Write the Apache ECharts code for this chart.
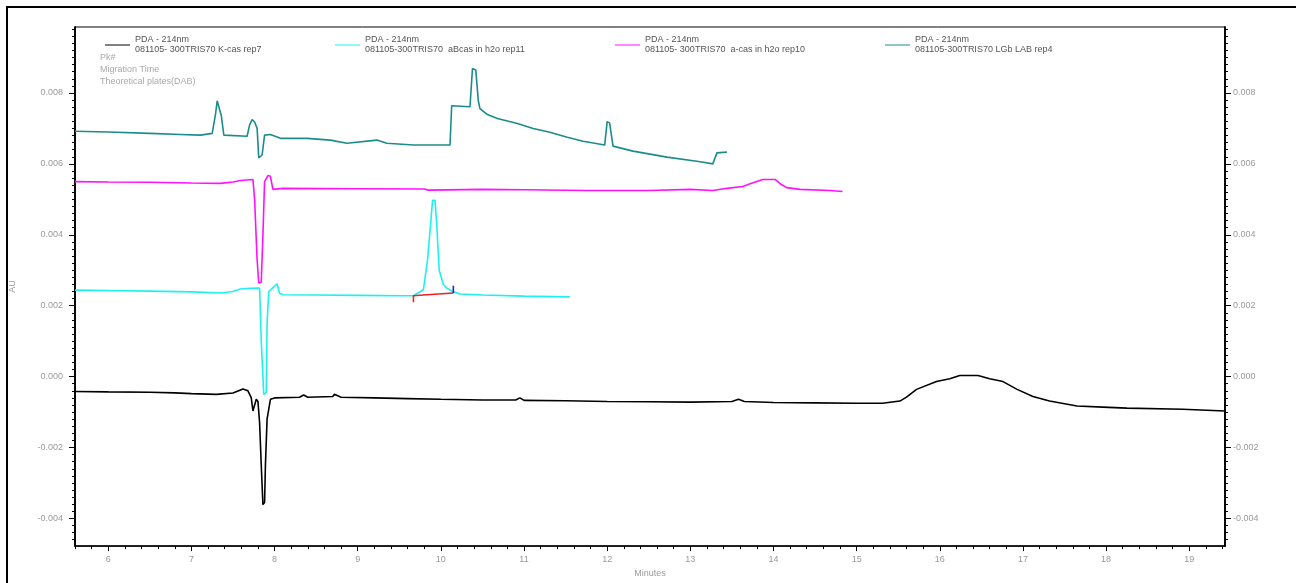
<html>
<head>
<meta charset="utf-8">
<title>PDA - 214nm electropherogram</title>
<script src="https://cdn.jsdelivr.net/npm/echarts@6.0.0/dist/echarts.min.js"></script>
<style>
	body { margin: 0; background: #fff; }
	#container { width: 1296px; height: 583px; }
</style>
</head>
<body>
	<div id="container"></div>
	<script type="text/javascript">
		// migration time (min) / absorbance (AU)
		var kCas = [[5.6,-0.00042],[6.0,-0.00043],[6.5,-0.00044],[6.8,-0.00046],[7.0,-0.00048],[7.3,-0.00050],[7.5,-0.00046],[7.62,-0.00035],[7.68,-0.00040],[7.72,-0.00060],[7.74,-0.00097],[7.76,-0.00100],[7.78,-0.00064],[7.80,-0.00070],[7.82,-0.00130],[7.84,-0.00250],[7.86,-0.00361],[7.88,-0.00355],[7.89,-0.00250],[7.91,-0.00120],[7.93,-0.00125],[7.95,-0.00064],[8.0,-0.00060],[8.3,-0.00058],[8.35,-0.00052],[8.4,-0.00058],[8.7,-0.00056],[8.72,-0.00050],[8.8,-0.00058],[9.2,-0.00060],[9.6,-0.00062],[10.0,-0.00064],[10.5,-0.00066],[10.9,-0.00066],[10.95,-0.00060],[11.0,-0.00067],[11.5,-0.00068],[12.0,-0.00070],[12.5,-0.00071],[13.0,-0.00072],[13.5,-0.00070],[13.58,-0.00064],[13.65,-0.00070],[14.0,-0.00073],[14.5,-0.00074],[15.0,-0.00075],[15.31,-0.00075],[15.52,-0.00069],[15.6,-0.00058],[15.72,-0.00036],[15.96,-0.00014],[16.12,-0.00006],[16.24,0.00003],[16.46,0.00003],[16.6,-0.00006],[16.76,-0.00014],[16.93,-0.00036],[17.12,-0.00056],[17.32,-0.00069],[17.65,-0.00083],[17.96,-0.00086],[18.25,-0.00089],[18.92,-0.00092],[19.43,-0.00097]];
		var aBcas = [[5.6,0.00244],[6.0,0.00243],[6.5,0.00241],[7.0,0.00239],[7.35,0.00236],[7.5,0.00240],[7.59,0.00247],[7.7,0.00249],[7.82,0.00250],[7.84,0.00100],[7.87,-0.00050],[7.90,-0.00045],[7.91,0.00150],[7.93,0.00240],[8.0,0.00255],[8.03,0.00262],[8.06,0.00235],[8.1,0.00231],[8.5,0.00230],[9.0,0.00229],[9.5,0.00228],[9.67,0.00228],[9.79,0.00245],[9.84,0.00330],[9.88,0.00440],[9.9,0.00497],[9.93,0.00497],[9.95,0.00430],[9.98,0.00300],[10.03,0.00260],[10.07,0.00250],[10.15,0.00239],[10.23,0.00233],[10.5,0.00230],[11.0,0.00227],[11.55,0.00225]];
		var aCas = [[5.6,0.00550],[6.0,0.00549],[6.5,0.00548],[7.0,0.00546],[7.35,0.00545],[7.5,0.00549],[7.59,0.00553],[7.74,0.00556],[7.76,0.00500],[7.79,0.00330],[7.81,0.00264],[7.84,0.00266],[7.86,0.00400],[7.88,0.00550],[7.92,0.00567],[7.95,0.00565],[7.98,0.00528],[8.1,0.00531],[9.0,0.00530],[9.8,0.00529],[9.85,0.00526],[10.5,0.00528],[11.0,0.00527],[11.76,0.00525],[12.5,0.00525],[13.0,0.00528],[13.27,0.00525],[13.44,0.00531],[13.63,0.00536],[13.72,0.00544],[13.87,0.00556],[14.02,0.00556],[14.08,0.00544],[14.16,0.00533],[14.32,0.00528],[14.68,0.00525],[14.83,0.00522]];
		var lgbLab = [[5.6,0.00692],[6.0,0.00690],[6.5,0.00686],[6.87,0.00683],[7.11,0.00681],[7.25,0.00686],[7.29,0.00740],[7.31,0.00778],[7.33,0.00775],[7.36,0.00735],[7.39,0.00681],[7.67,0.00678],[7.70,0.00710],[7.73,0.00725],[7.76,0.00718],[7.79,0.00700],[7.81,0.00617],[7.85,0.00625],[7.88,0.00681],[7.95,0.00683],[8.07,0.00672],[8.39,0.00672],[8.67,0.00667],[8.87,0.00658],[9.23,0.00667],[9.35,0.00658],[9.67,0.00653],[10.11,0.00653],[10.13,0.00764],[10.35,0.00761],[10.38,0.00869],[10.42,0.00865],[10.45,0.00778],[10.47,0.00756],[10.56,0.00739],[10.68,0.00728],[10.92,0.00714],[11.11,0.00700],[11.31,0.00689],[11.52,0.00675],[11.71,0.00664],[11.97,0.00653],[12.0,0.00719],[12.03,0.00715],[12.07,0.00650],[12.31,0.00636],[12.72,0.00619],[13.12,0.00606],[13.27,0.00600],[13.32,0.00631],[13.44,0.00633]];
		// peak integration marks on the aBcas trace
		var peakBase = [[9.67,0.00210],[9.67,0.00228],[9.79,0.00230],[10.15,0.00236]];
		var peakEnd = [[10.15,0.00236],[10.15,0.00256]];

		var sampleNames = ['081105- 300TRIS70 K-cas rep7', '081105-300TRIS70  aBcas in h2o rep11', '081105- 300TRIS70  a-cas in h2o rep10', '081105-300TRIS70 LGb LAB rep4'];
		var xTicks = [6, 7, 8, 9, 10, 11, 12, 13, 14, 15, 16, 17, 18, 19];
		var yTicks = [-0.004, -0.002, 0.000, 0.002, 0.004, 0.006, 0.008];
		var xMin = 5.6, xMax = 19.43, yMin = -0.00478, yMax = 0.00986;

		var xMinor = [];
		for (var i = Math.ceil(xMin * 5); i <= Math.floor(xMax * 5); i++) xMinor.push(i / 5);
		var yMinor = [];
		for (var j = Math.ceil(yMin / 0.0002); j <= Math.floor(yMax / 0.0002); j++) yMinor.push(+(j * 0.0002).toFixed(4));

		var font = 'Liberation Sans';
		var labelStyle = { fontSize: 9, color: '#9a9a9a', fontFamily: font };

		function yAxisOf(pos, ticks, len, labels) {
			return {
				type: 'value', position: pos, min: yMin, max: yMax,
				axisLine: { show: true, onZero: false, lineStyle: { color: '#000', width: 1.5 } },
				axisTick: { show: true, length: len, customValues: ticks, lineStyle: { color: '#000' } },
				axisLabel: labels ? Object.assign({ customValues: yTicks, margin: pos == 'left' ? 12 : 8,
					formatter: function (v) { return v.toFixed(3); } }, labelStyle) : { show: false },
				splitLine: { show: false },
				name: labels && pos == 'left' ? 'AU' : '', nameLocation: 'middle', nameGap: 58,
				nameTextStyle: { fontSize: 9, color: '#9a9a9a', fontFamily: font }
			};
		}

		function legendOf(idx, left) {
			return {
				data: [sampleNames[idx]], left: left, top: 30, icon: 'rect',
				itemWidth: 25, itemHeight: 1, selectedMode: false,
				textStyle: { fontSize: 9, color: '#555', fontFamily: font, lineHeight: 10 },
				formatter: function (name) { return 'PDA - 214nm\n' + name; }
			};
		}

		function trace(idx, data, color) {
			return {
				name: sampleNames[idx], type: 'line', data: data, color: color,
				symbol: 'none', lineStyle: { color: color, width: 1.6 }, z: 2 + idx
			};
		}

		var dom = document.getElementById('container');
		var myChart = echarts.init(dom, null, { renderer: 'canvas' });
		var option;
		option = {
			animation: false,
			backgroundColor: '#fff',
			grid: { left: 75, right: 71, top: 27, bottom: 29, show: true, borderColor: '#000', borderWidth: 1 },
			legend: [legendOf(0, 100), legendOf(1, 330), legendOf(2, 610), legendOf(3, 880)],
			xAxis: [
				{
					type: 'value', min: xMin, max: xMax, position: 'bottom',
					axisLine: { show: true, onZero: false, lineStyle: { color: '#000', width: 1.5 } },
					axisTick: { show: true, length: 5, customValues: xTicks, lineStyle: { color: '#000' } },
					axisLabel: Object.assign({ customValues: xTicks, margin: 9 }, labelStyle),
					splitLine: { show: false },
					name: 'Minutes', nameLocation: 'middle', nameGap: 22,
					nameTextStyle: { fontSize: 9, color: '#9a9a9a', fontFamily: font }
				},
				{
					type: 'value', min: xMin, max: xMax, position: 'bottom',
					axisLine: { show: false, onZero: false },
					axisTick: { show: true, length: 3, customValues: xMinor, lineStyle: { color: '#000' } },
					axisLabel: { show: false },
					splitLine: { show: false }
				}
			],
			yAxis: [
				yAxisOf('left', yTicks, 6, true),
				yAxisOf('left', yMinor, 3, false),
				yAxisOf('right', yTicks, 6, true),
				yAxisOf('right', yMinor, 3, false)
			],
			graphic: [
				{ type: 'rect', shape: { x: 7, y: 7, width: 1300, height: 600 }, style: { fill: 'none', stroke: '#000', lineWidth: 2 }, silent: true },
				{ type: 'text', left: 100, top: 53, style: { text: 'Pk#', fontSize: 9, fill: '#aaa', fontFamily: font } },
				{ type: 'text', left: 100, top: 65, style: { text: 'Migration Time', fontSize: 9, fill: '#aaa', fontFamily: font } },
				{ type: 'text', left: 100, top: 77, style: { text: 'Theoretical plates(DAB)', fontSize: 9, fill: '#aaa', fontFamily: font } }
			],
			series: [
				trace(0, kCas, '#000000'),
				trace(1, aBcas, '#1ef0f0'),
				trace(2, aCas, '#ff10ff'),
				trace(3, lgbLab, '#1c8c8a'),
				{ type: 'line', data: peakBase, symbol: 'none', lineStyle: { color: '#ee2222', width: 1.6 }, z: 8 },
				{ type: 'line', data: peakEnd, symbol: 'none', lineStyle: { color: '#2222dd', width: 1.6 }, z: 8 }
			]
		};
		if (option && typeof option === 'object') {
			myChart.setOption(option);
		}
	</script>
</body>
</html>
